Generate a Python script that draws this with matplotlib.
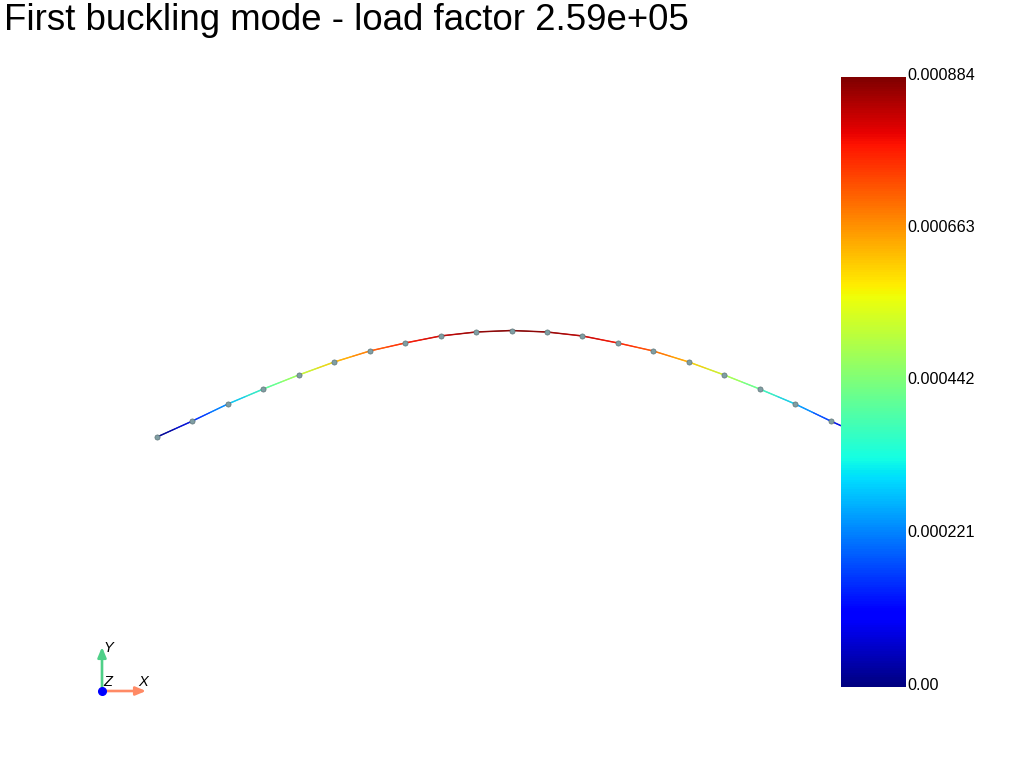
import numpy as np
import matplotlib
matplotlib.use('Agg')
import matplotlib.pyplot as plt
from matplotlib.cm import ScalarMappable
from matplotlib.colors import Normalize
from matplotlib.transforms import ScaledTranslation

# beam nodes
node_x = [0.00, 0.05, 0.10, 0.15, 0.20, 0.25, 0.30, 0.35, 0.40, 0.45, 0.50,
          0.55, 0.60, 0.65, 0.70, 0.75, 0.80, 0.85, 0.90, 0.95, 1.00]
node_y = [0.0000, 0.0226, 0.0466, 0.0677, 0.0875, 0.1058, 0.1213, 0.1326, 0.1425, 0.1481, 0.1502,
          0.1481, 0.1425, 0.1326, 0.1213, 0.1058, 0.0875, 0.0677, 0.0466, 0.0226, 0.0000]
disp = [0.0, 0.00013, 0.00027, 0.00039, 0.00051, 0.00062, 0.00071, 0.00078, 0.00083, 0.00087, 0.000884,
        0.00087, 0.00083, 0.00078, 0.00071, 0.00062, 0.00051, 0.00039, 0.00027, 0.00013, 0.0]

cbar_ticks = [0.0, 0.000221, 0.000442, 0.000663, 0.000884]
cbar_labels = ['0.00', '0.000221', '0.000442', '0.000663', '0.000884']
title = 'First buckling mode - load factor 2.59e+05'

plt.rcParams['font.family'] = ['Liberation Sans', 'DejaVu Sans']

W, H = 1024, 768
fig = plt.figure(figsize=(W / 100, H / 100), dpi=100)

# whole figure axes, 709 px per unit of beam length
ppu = 709
ax = fig.add_axes([0, 0, 1, 1])
ax.set_xlim(-157 / ppu, (W - 157) / ppu)
ax.set_ylim(-(H - 437) / ppu, 437 / ppu)
ax.axis('off')

x = np.array(node_x)
y = np.array(node_y)
c = np.array(disp)
norm = Normalize(0, 0.000884)

# thin strip so the colour runs smoothly between nodes
t = 0.25 / ppu
ax.pcolormesh(np.vstack([x, x]), np.vstack([y - t, y + t]), np.vstack([c, c]),
              cmap='jet', norm=norm, shading='gouraud', alpha=0.75, zorder=2)
ax.plot(x, y, 'o', ms=3.7, mfc='#7f9ea3', mec='#5f7478', mew=0.5, zorder=3)

fig.text(4 / W, 1 - 20.5 / H, title, fontsize=26.4, va='center', ha='left', color='black')

# colour bar
cax = fig.add_axes([841 / W, 1 - 687 / H, 65 / W, 610 / H], zorder=5)
cb = fig.colorbar(ScalarMappable(norm=norm, cmap='jet'), cax=cax, ticks=cbar_ticks)
cb.set_ticklabels(cbar_labels)
cb.outline.set_visible(False)
cax.tick_params(length=0, pad=0.8, labelsize=11.6)
for lab in cax.get_yticklabels():
    lab.set_va('center')
    lab.set_transform(lab.get_transform() + ScaledTranslation(0, 2 / 100, fig.dpi_scale_trans))

# orientation marker, in pixels
def px(a, b):
    return (a / W, 1 - b / H)

ov = fig.add_axes([0, 0, 1, 1], zorder=6)
ov.axis('off')
ov.patch.set_alpha(0)
ov.annotate('', xy=px(146, 691), xytext=px(102, 691), xycoords='figure fraction', textcoords='figure fraction',
            arrowprops=dict(arrowstyle='-|>,head_width=0.25,head_length=0.6', color='#ff8a65', lw=1.9, shrinkA=0, shrinkB=0))
ov.annotate('', xy=px(102, 647), xytext=px(102, 691), xycoords='figure fraction', textcoords='figure fraction',
            arrowprops=dict(arrowstyle='-|>,head_width=0.25,head_length=0.6', color='#4fd088', lw=1.9, shrinkA=0, shrinkB=0))
ov.plot(*px(102, 691), 'o', ms=5.5, color='#0000ff', transform=fig.transFigure, zorder=4)
for lab, pos in [('X', (143, 682)), ('Y', (108, 648)), ('Z', (108, 682))]:
    fx, fy = px(*pos)
    fig.text(fx, fy, lab, fontsize=10.5, style='italic', ha='center', va='center', zorder=7)

fig.savefig('out.png', dpi=100)
